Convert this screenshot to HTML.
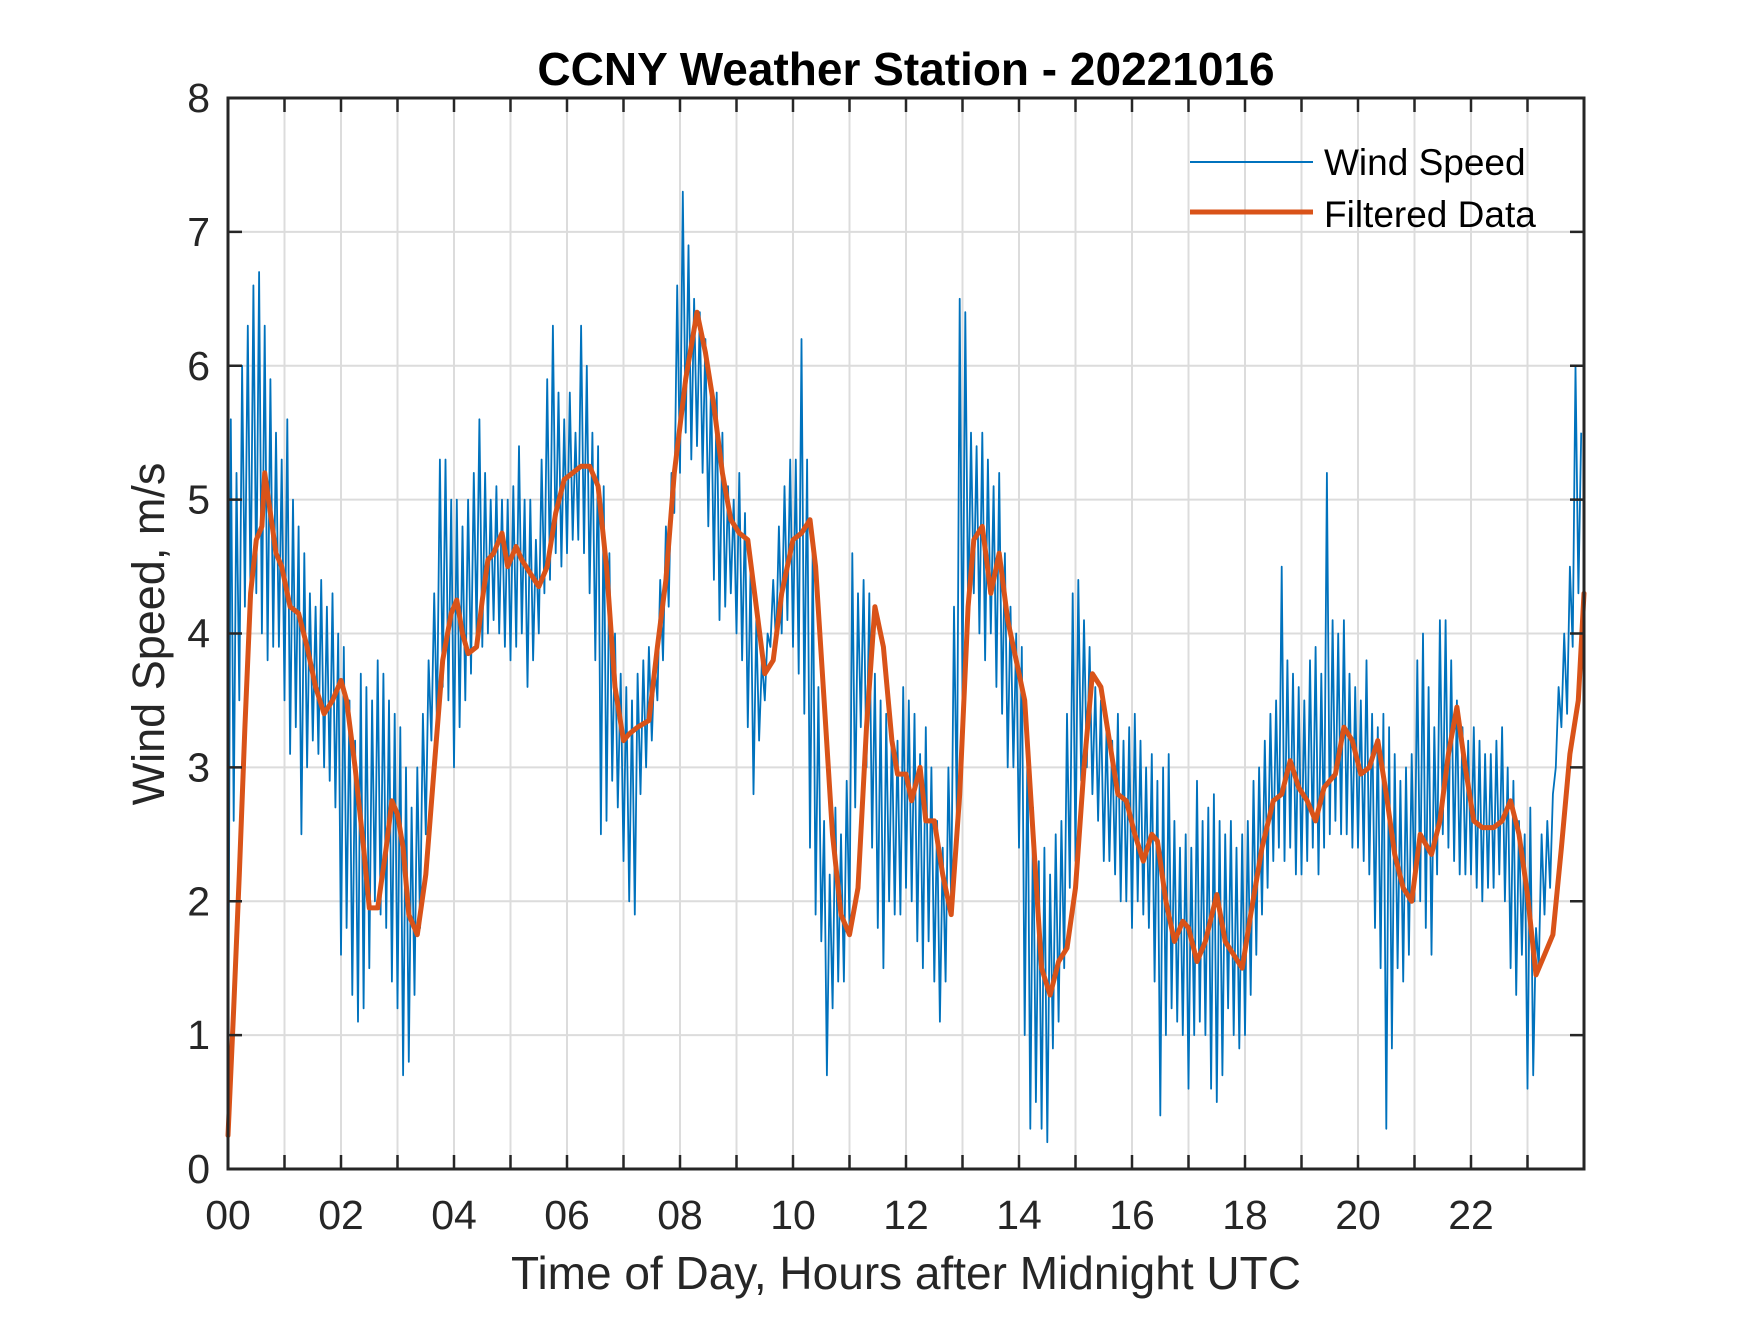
<!DOCTYPE html>
<html><head><meta charset="utf-8"><style>
html,body{margin:0;padding:0;background:#fff;}
svg text{font-family:"Liberation Sans",sans-serif;}
</style></head><body>
<svg id="chart" width="1750" height="1313" viewBox="0 0 1750 1313" xmlns="http://www.w3.org/2000/svg">
<rect width="1750" height="1313" fill="#fff"/>
<g id="grid"></g>
<g id="series"></g>
<g id="axes"></g>
<text x="906" y="85" text-anchor="middle" font-size="46" font-weight="bold" fill="#000">CCNY Weather Station - 20221016</text>
<text x="906" y="1289" text-anchor="middle" font-size="46" fill="#262626">Time of Day, Hours after Midnight UTC</text>
<text transform="translate(164,634) rotate(-90)" text-anchor="middle" font-size="45" fill="#262626">Wind Speed, m/s</text>
<g>
<line x1="1190" y1="162" x2="1313" y2="162" stroke="#0072BD" stroke-width="2"/>
<text x="1324" y="175" font-size="37" fill="#000">Wind Speed</text>
<line x1="1190" y1="212" x2="1313" y2="212" stroke="#D95319" stroke-width="5"/>
<text x="1324" y="227" font-size="37" fill="#000">Filtered Data</text>
</g>
</svg>
<script>
const xTicks = [0,1,2,3,4,5,6,7,8,9,10,11,12,13,14,15,16,17,18,19,20,21,22,23];
const xTickLabels = ["00","","02","","04","","06","","08","","10","","12","","14","","16","","18","","20","","22",""];
const yTicks = [0,1,2,3,4,5,6,7,8];
const rawHi = [
5.6,5.2,6.0,6.3,6.6,6.7,6.3,5.9,5.5,5.3,
5.6,5.0,4.8,4.6,4.3,4.2,4.4,4.2,4.3,4.0,
3.9,3.5,3.2,3.7,3.6,3.5,3.8,3.7,3.5,3.4,
3.3,3.0,2.7,3.0,3.4,3.8,4.3,5.3,5.3,5.0,
5.0,4.8,5.0,5.2,5.6,5.2,5.0,5.1,5.0,5.0,
5.1,5.4,5.0,5.0,4.7,5.3,5.9,6.3,5.8,5.6,
5.8,5.5,6.3,6.0,5.5,5.4,5.1,4.6,4.0,3.7,
3.6,3.5,3.7,3.8,3.9,3.8,4.4,4.8,5.2,6.6,
7.3,6.9,6.5,6.4,6.2,5.9,5.8,5.5,5.1,5.0,
5.2,4.9,4.5,4.1,3.8,4.0,4.4,4.8,5.1,5.3,
5.3,6.2,5.3,4.7,3.6,2.6,2.2,2.7,2.5,2.9,
4.6,4.3,4.4,4.3,3.7,3.5,3.4,3.3,3.2,3.6,
3.5,3.4,3.1,3.3,3.0,2.6,2.4,3.0,4.2,6.5,
6.4,5.5,5.4,5.5,5.3,5.1,5.2,4.6,4.2,4.0,
3.9,3.2,2.7,2.3,2.4,2.2,2.5,2.6,3.4,4.3,
4.4,4.1,3.9,3.6,3.5,3.3,3.2,3.4,3.2,3.3,
3.4,3.2,3.0,3.1,2.9,3.0,3.1,2.6,2.4,2.5,
2.4,2.9,2.6,2.7,2.8,2.6,2.5,2.6,2.4,2.5,
2.6,2.9,3.0,3.2,3.4,3.5,4.5,3.8,3.7,3.6,
3.5,3.8,3.9,3.7,5.2,4.1,4.0,4.1,3.7,3.6,
3.5,3.8,3.4,3.3,3.4,3.3,3.1,2.9,3.0,3.1,
3.8,4.0,3.6,3.3,4.1,4.1,3.8,3.5,3.3,3.2,
3.3,3.2,3.1,3.1,3.2,3.3,3.0,2.9,2.6,2.5,
2.7,1.8,2.5,2.6,2.8,3.6,4.0,4.5,6.0,5.5];
const rawLo = [
0.3,2.6,3.5,4.2,4.2,4.3,4.0,3.8,3.9,3.9,
3.5,3.1,3.3,2.5,3.0,3.2,3.1,3.0,2.9,2.7,
1.6,1.8,1.3,1.1,1.2,1.5,2.0,1.9,1.8,1.4,
1.2,0.7,0.8,1.3,1.8,2.5,3.2,3.3,3.6,3.5,
3.0,3.3,3.5,3.7,4.0,3.9,4.0,4.1,4.0,3.9,
3.8,3.9,4.0,3.6,3.8,4.0,4.3,4.4,4.6,4.5,
4.6,4.7,4.7,4.6,4.3,3.8,2.5,2.6,2.9,2.7,
2.3,2.0,1.9,2.8,3.0,3.2,3.5,3.8,4.2,4.9,
5.2,5.5,5.3,5.4,5.2,4.8,4.4,4.1,4.2,4.3,
4.0,3.8,3.3,2.8,3.2,3.5,3.9,3.9,4.0,4.1,
3.9,3.7,3.4,2.4,1.9,1.7,0.7,1.2,1.4,1.4,
1.8,2.7,3.3,3.0,2.4,1.8,1.5,2.0,1.9,1.9,
2.1,2.0,1.7,1.5,1.7,1.4,1.1,1.4,2.0,2.6,
3.5,4.1,4.3,4.0,3.8,4.0,3.6,3.4,3.0,3.0,
2.4,1.0,0.3,0.5,0.3,0.2,0.9,1.1,1.5,2.1,
2.3,2.9,3.0,2.8,2.6,2.3,2.3,2.2,2.0,2.0,
1.8,2.0,1.9,1.8,1.4,0.4,1.0,1.2,1.1,1.0,
0.6,1.0,1.1,1.0,0.6,0.5,0.7,1.2,1.0,0.9,
1.0,1.3,1.6,1.9,2.1,2.3,2.4,2.3,2.4,2.2,
2.2,2.3,2.4,2.2,2.4,2.5,2.6,2.5,2.5,2.4,
2.4,2.3,2.2,1.8,1.5,0.3,0.9,1.5,1.4,1.6,
2.0,2.0,1.8,1.6,2.2,2.5,2.4,2.3,2.2,2.2,
2.2,2.1,2.0,2.1,2.1,2.2,2.0,1.5,1.3,1.6,
0.6,0.7,1.5,1.9,2.1,3.0,3.3,3.4,3.9,4.3];
const filtHours = [0.0,0.1,0.2,0.3,0.4,0.5,0.6,0.65,0.75,0.85,0.95,1.1,1.25,1.4,1.55,1.7,1.85,2.0,2.1,2.25,2.4,2.5,2.65,2.8,2.9,3.0,3.1,3.2,3.35,3.5,3.65,3.8,3.95,4.05,4.15,4.25,4.4,4.5,4.6,4.7,4.85,4.95,5.1,5.2,5.35,5.5,5.65,5.8,5.95,6.1,6.25,6.4,6.55,6.7,6.85,7.0,7.1,7.25,7.45,7.6,7.75,7.9,8.1,8.3,8.45,8.6,8.75,8.9,9.05,9.2,9.35,9.5,9.65,9.8,10.0,10.15,10.3,10.4,10.55,10.7,10.85,11.0,11.15,11.3,11.45,11.6,11.75,11.85,12.0,12.1,12.25,12.35,12.5,12.65,12.8,12.95,13.1,13.2,13.35,13.5,13.65,13.8,13.95,14.1,14.25,14.4,14.55,14.7,14.85,15.0,15.15,15.3,15.45,15.6,15.75,15.9,16.05,16.2,16.35,16.45,16.6,16.75,16.9,17.0,17.15,17.3,17.5,17.65,17.8,17.95,18.1,18.3,18.5,18.65,18.8,18.95,19.1,19.25,19.4,19.6,19.75,19.9,20.05,20.2,20.35,20.5,20.65,20.8,20.95,21.1,21.3,21.45,21.6,21.75,21.9,22.05,22.2,22.4,22.55,22.7,22.85,23.0,23.15,23.3,23.45,23.6,23.75,23.9,24.0];
const filtValues = [0.25,1.2,2.2,3.3,4.3,4.7,4.8,5.2,4.9,4.6,4.5,4.2,4.15,3.9,3.6,3.4,3.5,3.65,3.5,3.0,2.4,1.95,1.95,2.4,2.75,2.65,2.4,1.9,1.75,2.2,3.0,3.8,4.15,4.25,4.0,3.85,3.9,4.25,4.55,4.6,4.75,4.5,4.65,4.55,4.45,4.35,4.5,4.9,5.15,5.2,5.25,5.25,5.1,4.5,3.6,3.2,3.25,3.3,3.35,3.9,4.4,5.2,5.9,6.4,6.1,5.7,5.2,4.85,4.75,4.7,4.2,3.7,3.8,4.3,4.7,4.75,4.85,4.5,3.5,2.5,1.9,1.75,2.1,3.3,4.2,3.9,3.2,2.95,2.95,2.75,3.0,2.6,2.6,2.2,1.9,2.8,4.2,4.7,4.8,4.3,4.6,4.1,3.8,3.5,2.5,1.5,1.3,1.55,1.65,2.1,3.0,3.7,3.6,3.2,2.8,2.75,2.5,2.3,2.5,2.45,2.0,1.7,1.85,1.8,1.55,1.7,2.05,1.7,1.6,1.5,1.9,2.4,2.75,2.8,3.05,2.85,2.75,2.6,2.85,2.95,3.3,3.2,2.95,3.0,3.2,2.8,2.35,2.1,2.0,2.5,2.35,2.6,3.1,3.45,3.0,2.6,2.55,2.55,2.6,2.75,2.5,2.05,1.45,1.6,1.75,2.4,3.1,3.5,4.3];

const L=228,R=1584,T=98,B=1169, XMAX=24, YMAX=8;
const xs = h => L + (R-L)*h/XMAX;
const ys = v => B - (B-T)*v/YMAX;
const NS="http://www.w3.org/2000/svg";
const mk=(tag,attrs,parent)=>{const e=document.createElementNS(NS,tag);for(const k in attrs)e.setAttribute(k,attrs[k]);parent.appendChild(e);return e;};
const grid=document.getElementById('grid'), axes=document.getElementById('axes'), series=document.getElementById('series');

xTicks.forEach((h,i)=>{
  const x=xs(h);
  if(h>0){const g=mk('line',{x1:x,y1:T,x2:x,y2:B,stroke:'#dcdcdc','stroke-width':2},grid);
  
  }
  const t1=mk('line',{x1:x,y1:B,x2:x,y2:B-14,stroke:'#262626','stroke-width':2.5},axes);
  
  
  const t2=mk('line',{x1:x,y1:T,x2:x,y2:T+14,stroke:'#262626','stroke-width':2.5},axes);
  
  
  if(xTickLabels[i]){const tx=mk('text',{x:x,y:1229,'text-anchor':'middle','font-size':41,fill:'#262626'},axes);tx.textContent=xTickLabels[i];
  
  }
});
yTicks.forEach(v=>{
  const y=ys(v);
  if(v>0&&v<YMAX){const g=mk('line',{x1:L,y1:y,x2:R,y2:y,stroke:'#dcdcdc','stroke-width':2},grid);
  
  }
  const t1=mk('line',{x1:L,y1:y,x2:L+14,y2:y,stroke:'#262626','stroke-width':2.5},axes);
  
  
  const t2=mk('line',{x1:R,y1:y,x2:R-14,y2:y,stroke:'#262626','stroke-width':2.5},axes);
  
  
  const tx=mk('text',{x:210,y:y+14,'text-anchor':'end','font-size':41,fill:'#262626'},axes);tx.textContent=v;
  
  
});
const box=mk('rect',{x:L,y:T,width:R-L,height:B-T,fill:'none',stroke:'#262626','stroke-width':3},axes);



let d='';
rawHi.forEach((hv,i)=>{
  const h=i*0.1;
  d+=(i===0?'M':'L')+xs(h).toFixed(1)+','+ys(rawLo[i]).toFixed(1);
  d+='L'+xs(h+0.05).toFixed(1)+','+ys(hv).toFixed(1);
});
const raw=mk('path',{d:d,fill:'none',stroke:'#0072BD','stroke-width':1.8,'stroke-linejoin':'round'},series);



let d2='';
filtHours.forEach((h,i)=>{d2+=(i===0?'M':'L')+xs(h).toFixed(1)+','+ys(filtValues[i]).toFixed(1);});
const f=mk('path',{d:d2,fill:'none',stroke:'#D95319','stroke-width':5,'stroke-linejoin':'round','stroke-linecap':'round'},series);


</script>
</body></html>
